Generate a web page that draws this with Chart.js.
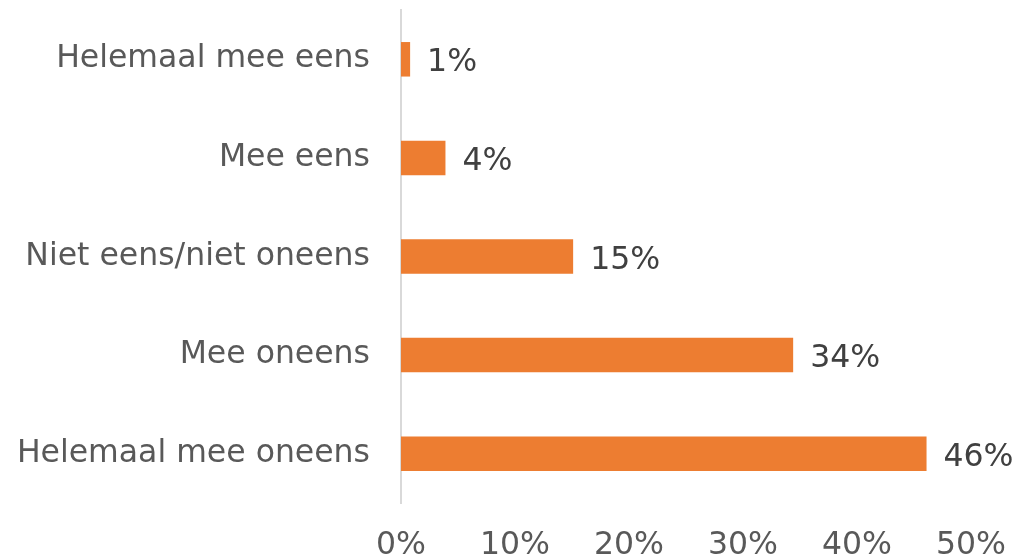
<!DOCTYPE html>
<html>
<head>
<meta charset="utf-8">
<script src="https://cdn.jsdelivr.net/npm/chart.js@4"></script>
<style>
	html, body { margin: 0; padding: 0; background: #fff; }
	#wrap { width: 1020px; height: 559px; }
</style>
</head>
<body>
<div id="wrap"><canvas id="chart"></canvas></div>
<script>
var categorieen = ["Helemaal mee eens", "Mee eens", "Niet eens/niet oneens", "Mee oneens", "Helemaal mee oneens"];
var waarden = [0.8, 3.9, 15.1, 34.4, 46.1];
var labels = ["1%", "4%", "15%", "34%", "46%"];
var ticks = [0, 10, 20, 30, 40, 50];

var lettertype = "'DejaVu Sans', Verdana, sans-serif";

// waarde achter elke balk schrijven
var balkLabels = {
	id: "balkLabels",
	afterDatasetsDraw: function (chart) {
		var c = chart.ctx;
		var meta = chart.getDatasetMeta(0);
		c.save();
		c.font = "31.5px " + lettertype;
		c.fillStyle = "#404040";
		c.textAlign = "left";
		c.textBaseline = "middle";
		meta.data.forEach(function (bar, i) {
			c.fillText(labels[i], bar.x + 17, bar.y + 4);
		});
		c.restore();
	}
};

var ctx = document.getElementById("chart").getContext("2d");
var chart = new Chart(ctx, {
	type: "bar",
	data: {
		labels: categorieen,
		datasets: [
			{
				data: waarden,
				backgroundColor: "#ED7D31",
				barPercentage: 0.35,
				categoryPercentage: 1,
			},
		],
	},
	options: {
		indexAxis: "y",
		responsive: true,
		maintainAspectRatio: false,
		animation: false,
		layout: { padding: { top: 10, right: 49, left: 0, bottom: 0 } },
		plugins: {
			legend: { display: false },
			tooltip: { enabled: false },
		},
		scales: {
			x: {
				min: ticks[0],
				max: ticks[ticks.length - 1],
				afterBuildTicks: function (scale) {
					scale.ticks = ticks.map(function (v) { return { value: v }; });
				},
				afterFit: function (scale) {
					scale.height = 56;
					scale.paddingLeft = 0;
					scale.paddingRight = 0;
				},
				grid: { display: false, drawTicks: false },
				border: { display: false },
				ticks: {
					padding: 24,
					color: "#595959",
					font: { family: lettertype, size: 31.5 },
					maxRotation: 0,
					callback: function (v) { return v + "%"; },
				},
			},
			y: {
				afterFit: function (scale) {
					scale.width = 401;
					scale.paddingTop = 0;
					scale.paddingBottom = 0;
				},
				grid: { display: false, drawTicks: false },
				border: { display: true, color: "#D9D9D9", width: 2 },
				ticks: {
					padding: 31,
					color: "#595959",
					font: { family: lettertype, size: 31.5, lineHeight: 1.05 },
				},
			},
		},
	},
	plugins: [balkLabels],
});
</script>
</body>
</html>
